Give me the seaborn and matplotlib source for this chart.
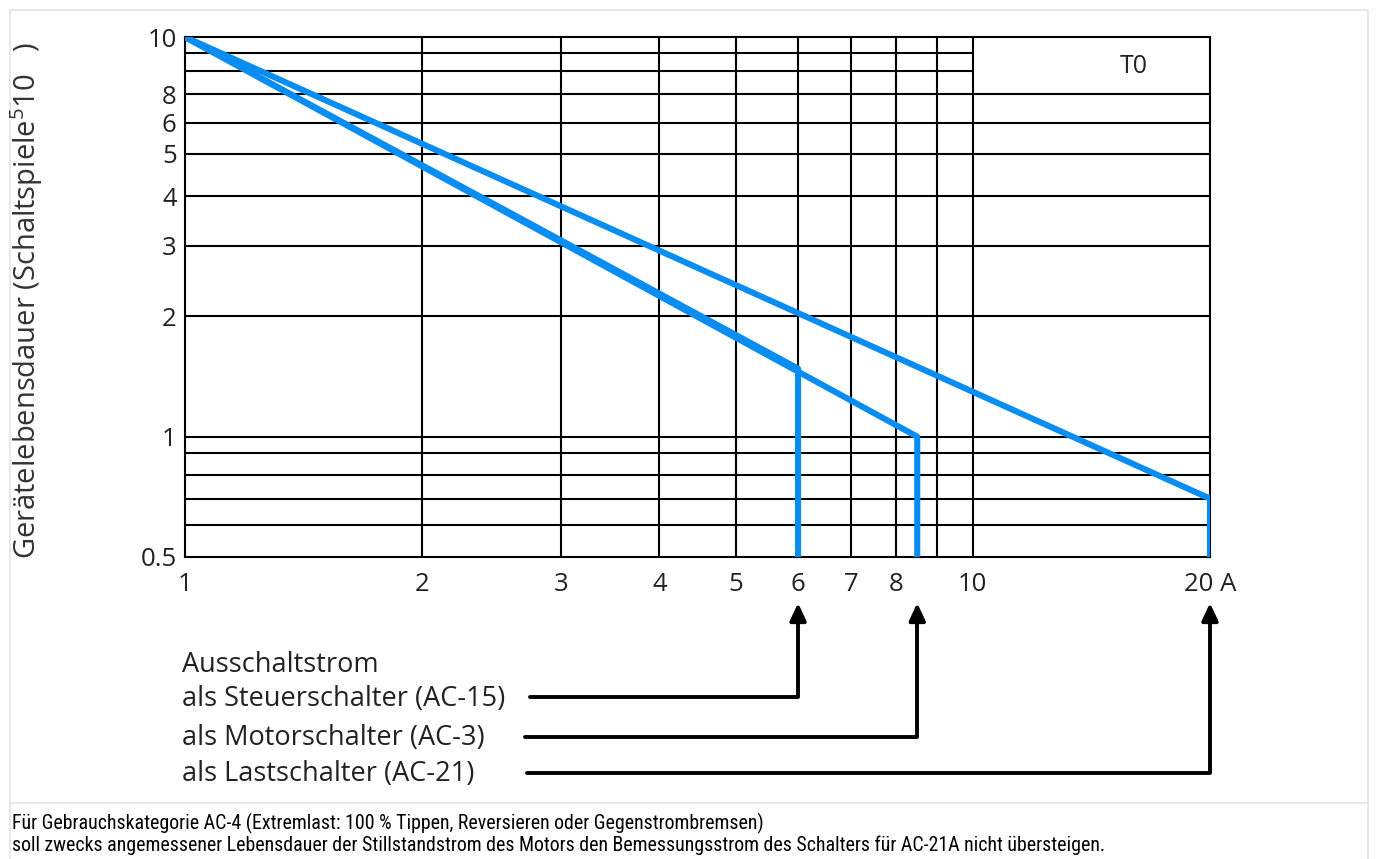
import numpy as np
import pandas as pd
import matplotlib
matplotlib.use("Agg")
import matplotlib.pyplot as plt
from matplotlib.patches import Rectangle
from matplotlib.lines import Line2D
from matplotlib.ticker import NullLocator, FixedLocator, FixedFormatter
import seaborn as sns

# Kennlinien (Strom in A, Lebensdauer in 10^5 Schaltspielen)
ac15_strom = [1, 6, 6]
ac15_dauer = [10, 1.48, 0.5]
ac3_strom = [1, 8.5, 8.5]
ac3_dauer = [10, 1.0, 0.5]
ac21_strom = [1, 20, 20]
ac21_dauer = [10, 0.7, 0.5]

# Raster
raster_x = [2, 3, 4, 5, 6, 7, 8, 9, 10]
raster_y_kurz = [9.1, 8.2]          # nur bis 10 A
raster_y_voll = [7.2, 6.1, 5.1, 4, 3, 2, 1, 0.91, 0.8, 0.7, 0.6]

x_ticks = [1, 2, 3, 4, 5, 6, 7, 8, 10, 20]
x_labels = ["1", "2", "3", "4", "5", "6", "7", "8", "10", "20 A"]
y_ticks = [10, 7.2, 6.1, 5.1, 4, 3, 2, 1, 0.5]
y_labels = ["10", "8", "6", "5", "4", "3", "2", "1", "0.5"]

pfeil_texte = ["als Steuerschalter (AC-15)", "als Motorschalter (AC-3)", "als Lastschalter (AC-21)"]
pfeil_ziele = [6, 8.5, 20]

fussnote = ("Für Gebrauchskategorie AC-4 (Extremlast: 100 % Tippen, Reversieren oder Gegenstrombremsen)\n"
            "soll zwecks angemessener Lebensdauer der Stillstandstrom des Motors den Bemessungsstrom "
            "des Schalters für AC-21A nicht übersteigen.")

df = pd.concat([
    pd.DataFrame({"strom": ac15_strom, "dauer": ac15_dauer, "kat": "AC-15"}),
    pd.DataFrame({"strom": ac3_strom, "dauer": ac3_dauer, "kat": "AC-3"}),
    pd.DataFrame({"strom": ac21_strom, "dauer": ac21_dauer, "kat": "AC-21"}),
], ignore_index=True)

sns.set_theme(style="white")
plt.rcParams["font.family"] = ["Open Sans", "DejaVu Sans"]
plt.rcParams["mathtext.fontset"] = "custom"
plt.rcParams["mathtext.rm"] = "Open Sans"
plt.rcParams["mathtext.it"] = "Open Sans"

W, H = 1376, 859
fig = plt.figure(figsize=(W / 100, H / 100), dpi=100)
ax = fig.add_axes([185 / W, 1 - 557 / H, (1210 - 185) / W, (557 - 37) / H])

def fx(px):
    return px / W

def fy(py):
    return 1 - py / H

blau = "#0a8df0"
textfarbe = "#222222"
sns.lineplot(data=df, x="strom", y="dauer", hue="kat", units="kat", estimator=None, sort=False,
             palette=[blau, blau, blau], linewidth=4.4, legend=False, ax=ax, zorder=3,
             solid_capstyle="butt")

ax.set_xscale("log")
ax.set_yscale("log")
ax.set_xlim(1, 20)
ax.set_ylim(0.5, 10)

ax.vlines(raster_x, 0.5, 10, color="black", lw=1.5, zorder=2)
ax.hlines(raster_y_voll, 1, 20, color="black", lw=1.5, zorder=2)
ax.hlines(raster_y_kurz, 1, 10, color="black", lw=1.5, zorder=2)

for s in ax.spines.values():
    s.set_color("black")
    s.set_linewidth(1.5)
    s.set_visible(True)

ax.xaxis.set_major_locator(FixedLocator(x_ticks))
ax.xaxis.set_major_formatter(FixedFormatter(x_labels))
ax.yaxis.set_major_locator(FixedLocator(y_ticks))
ax.yaxis.set_major_formatter(FixedFormatter(y_labels))
ax.xaxis.set_minor_locator(NullLocator())
ax.yaxis.set_minor_locator(NullLocator())
ax.tick_params(axis="both", length=0, labelsize=18.5, colors=textfarbe)
ax.tick_params(axis="x", pad=11)
ax.tick_params(axis="y", pad=6)
ax.set_xlabel("")
ax.set_ylabel("")

ax.text(16.0, 8.45, "T0", ha="center", va="center", fontsize=18, color=textfarbe)

fig.text(fx(27), fy(300), "Gerätelebensdauer (Schaltspiele$^{5}$10   )", rotation=90,
         ha="center", va="center", fontsize=21, color="#333333")

# Beschriftung unten mit Pfeilen
fig.text(fx(182), fy(665), "Ausschaltstrom", ha="left", va="center", fontsize=19.5, color=textfarbe)
text_y = [699, 738, 774]
linie_y = [697, 737, 773]
linie_x0 = [530, 525, 527]
for txt, ty, ly, lx, ziel in zip(pfeil_texte, text_y, linie_y, linie_x0, pfeil_ziele):
    fig.text(fx(182), fy(ty), txt, ha="left", va="center", fontsize=19.5, color=textfarbe)
    ax.annotate("", xy=(ziel, fy(603)), xycoords=("data", "figure fraction"),
                xytext=(fx(lx), fy(ly)), textcoords="figure fraction",
                arrowprops=dict(arrowstyle="-|>,head_length=0.75,head_width=0.35",
                                connectionstyle="angle,angleA=0,angleB=90,rad=0",
                                color="black", lw=2.8, shrinkA=0, shrinkB=0,
                                mutation_scale=14),
                annotation_clip=False)

fig.text(fx(12), fy(834), fussnote, ha="left", va="center", fontsize=14.3, linespacing=1.12,
         family=["Roboto Condensed", "Liberation Sans Narrow", "Roboto", "DejaVu Sans"], color="black")

# heller Rahmen
grau = "#e4e4e4"
fig.add_artist(Rectangle((fx(10), fy(803)), fx(1368) - fx(10), fy(10) - fy(803),
                         transform=fig.transFigure, fill=False, edgecolor=grau, lw=1.2))
fig.add_artist(Line2D([fx(10), fx(10)], [fy(803), 0], transform=fig.transFigure, color=grau, lw=1.2))
fig.add_artist(Line2D([fx(1368), fx(1368)], [fy(803), 0], transform=fig.transFigure, color=grau, lw=1.2))

fig.savefig("out.png", dpi=100, facecolor="white")
